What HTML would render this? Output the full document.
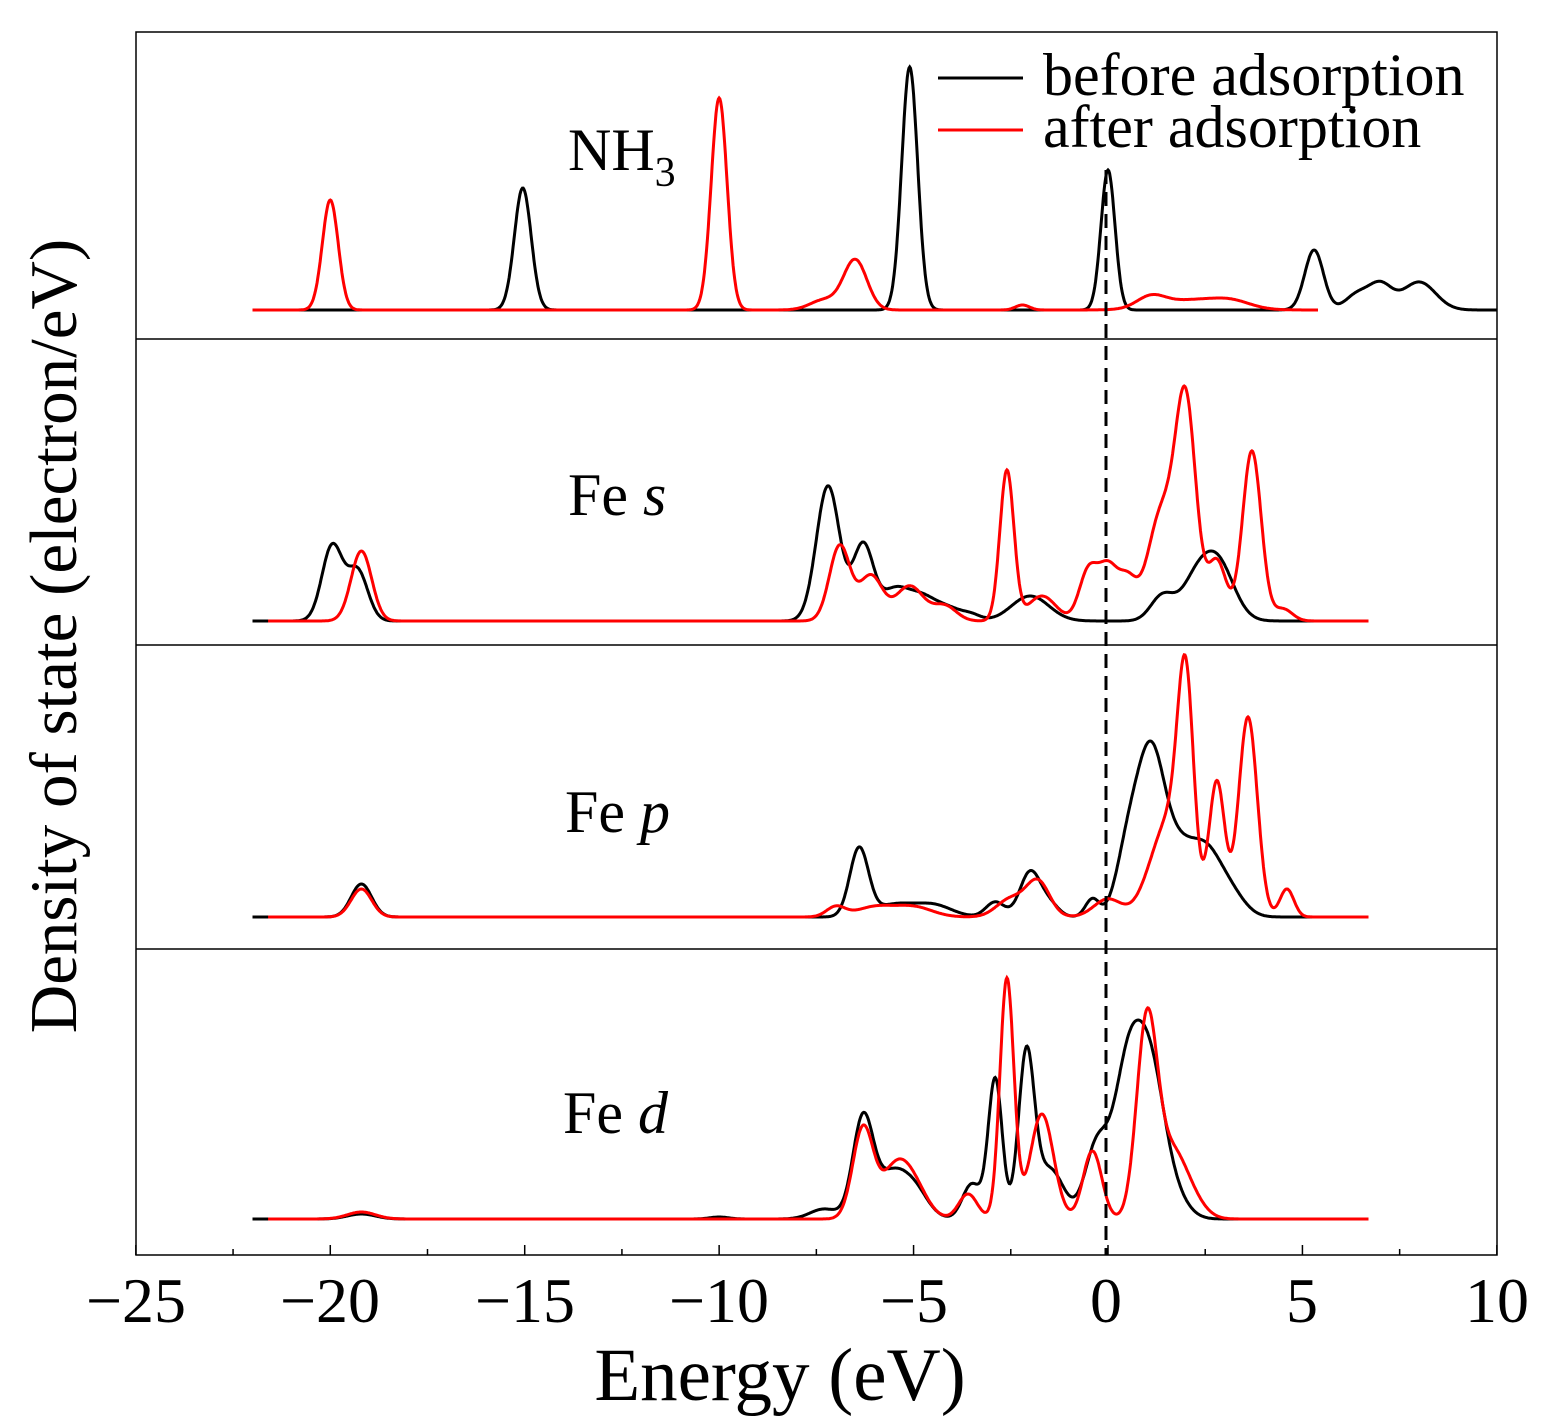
<!DOCTYPE html>
<html><head><meta charset="utf-8"><style>
html,body{margin:0;padding:0;background:#fff;}
svg{display:block;font-family:"Liberation Serif",serif;}
</style></head><body>
<svg id="s" width="1543" height="1428" xmlns="http://www.w3.org/2000/svg">
<rect x="136" y="32" width="1361" height="1223" fill="none" stroke="#000" stroke-width="1.5"/>
<line x1="136" y1="339" x2="1497" y2="339" stroke="#000" stroke-width="1.5"/>
<line x1="136" y1="645" x2="1497" y2="645" stroke="#000" stroke-width="1.5"/>
<line x1="136" y1="949" x2="1497" y2="949" stroke="#000" stroke-width="1.5"/>
<g id="curves"></g>
<line x1="1106" y1="170" x2="1106" y2="1255" stroke="#000" stroke-width="3" stroke-dasharray="14,8"/>
<g id="ticks" stroke="#000" stroke-width="1.5"></g>
<g font-size="64" text-anchor="middle">
<text x="136" y="1322">−25</text><text x="330" y="1322">−20</text><text x="525" y="1322">−15</text>
<text x="719" y="1322">−10</text><text x="914" y="1322">−5</text><text x="1106" y="1322">0</text>
<text x="1302" y="1322">5</text><text x="1497" y="1322">10</text>
</g>
<text x="780" y="1400" font-size="75" text-anchor="middle">Energy (eV)</text>
<text transform="translate(76,636) rotate(-90)" font-size="67" text-anchor="middle">Density of state (electron/eV)</text>
<text x="568" y="170" font-size="60">NH<tspan font-size="42" dy="16">3</tspan></text>
<text x="568" y="515" font-size="60">Fe <tspan font-style="italic">s</tspan></text>
<text x="565" y="832" font-size="60">Fe <tspan font-style="italic">p</tspan></text>
<text x="563" y="1133" font-size="60">Fe <tspan font-style="italic">d</tspan></text>
<line x1="938" y1="78" x2="1023" y2="78" stroke="#000" stroke-width="3"/>
<line x1="938" y1="130" x2="1023" y2="130" stroke="#f00" stroke-width="3"/>
<text x="1043" y="95" font-size="60">before adsorption</text>
<text x="1043" y="147" font-size="60">after adsorption</text>
</svg>
<script>
function X(e){return 1108+e*38.886;}
function curve(base,x0,x1,peaks,color){
  var d="";
  for(var e=x0;e<=x1+1e-9;e+=0.02){
    var y=0;for(var i=0;i<peaks.length;i++){var p=peaks[i];var s=(p[2]||0.2)*1.2;y+=p[1]*Math.exp(-Math.pow(e-p[0],2)/(2*s*s));}
    d+=(d?"L":"M")+X(e).toFixed(1)+","+(base-y).toFixed(1);
  }
  var g=document.getElementById("curves");
  var p=document.createElementNS("http://www.w3.org/2000/svg","path");
  p.setAttribute("d",d);p.setAttribute("fill","none");p.setAttribute("stroke",color);p.setAttribute("stroke-width","3");
  g.appendChild(p);
}
curve(310,-22,10,[[-15.05,122,0.18],[-5.1,243,0.17],[0,140,0.15],[5.3,60,0.2],[6.4,15,0.25],[7.0,25,0.25],[8.0,28,0.35]],"#000");
curve(310,-22,5.4,[[-20,110,0.17],[-10,212,0.17],[-6.5,50,0.25],[-7.3,10,0.3],[-2.2,5,0.15],[1.1,11,0.3],[2.2,10,0.7],[3.2,6,0.4]],"#f00");
curve(621,-22,6.7,[[-19.95,75,0.22],[-19.3,50,0.22],[-7.2,135,0.25],[-6.3,75,0.22],[-5.5,30,0.3],[-4.8,22,0.3],[-4.1,12,0.3],[-3.5,5,0.2],[-2.0,25,0.4],[1.4,25,0.25],[2.8,60,0.35],[2.2,30,0.3]],"#000");
curve(621,-21.6,6.7,[[-19.2,70,0.22],[-6.9,75,0.22],[-6.1,45,0.25],[-5.1,35,0.3],[-4.2,15,0.25],[-2.6,150,0.15],[-1.7,25,0.3],[-0.5,50,0.2],[0,50,0.2],[0.5,40,0.2],[1.2,55,0.25],[2.0,215,0.22],[1.5,65,0.25],[3.7,170,0.2],[2.8,60,0.2],[4.5,12,0.2]],"#f00");
curve(917,-22,6.7,[[-19.2,33,0.22],[-6.4,68,0.2],[-5.5,12,0.4],[-4.5,12,0.4],[-2.9,15,0.2],[-2.0,45,0.22],[-1.5,12,0.2],[-0.4,18,0.15],[1.1,160,0.3],[0.5,60,0.25],[1.8,50,0.3],[2.5,65,0.35],[3.2,18,0.3]],"#000");
curve(917,-21.6,6.7,[[-19.2,28,0.22],[-7,10,0.2],[-6,10,0.4],[-5,10,0.4],[-2.5,18,0.3],[-1.8,35,0.25],[0,18,0.3],[1.2,40,0.3],[1.7,80,0.3],[2.0,200,0.17],[2.8,135,0.17],[3.6,200,0.2],[4.6,28,0.15]],"#f00");
curve(1219,-22,6.7,[[-19.2,5,0.3],[-10,2,0.2],[-7.3,10,0.3],[-6.3,100,0.22],[-5.6,40,0.3],[-5,30,0.3],[-3.5,35,0.2],[-2.9,140,0.15],[-2.1,160,0.17],[-1.5,50,0.3],[-0.3,70,0.25],[0.5,145,0.3],[1.1,135,0.3],[1.7,20,0.3]],"#000");
curve(1219,-21.6,6.7,[[-19.2,7,0.3],[-6.3,90,0.22],[-5.5,45,0.3],[-5,30,0.3],[-3.6,25,0.2],[-2.6,240,0.15],[-1.7,105,0.25],[-0.4,68,0.2],[1.0,195,0.22],[1.6,60,0.3],[2.1,20,0.3]],"#f00");
var t=document.getElementById("ticks");
for(var e=-25;e<=10;e+=2.5){var x=X(e);var L=(e%5===0)?10:6;
 var l=document.createElementNS("http://www.w3.org/2000/svg","line");
 l.setAttribute("x1",x);l.setAttribute("x2",x);l.setAttribute("y1",1255);l.setAttribute("y2",1255-L);t.appendChild(l);}
</script>
</body></html>
